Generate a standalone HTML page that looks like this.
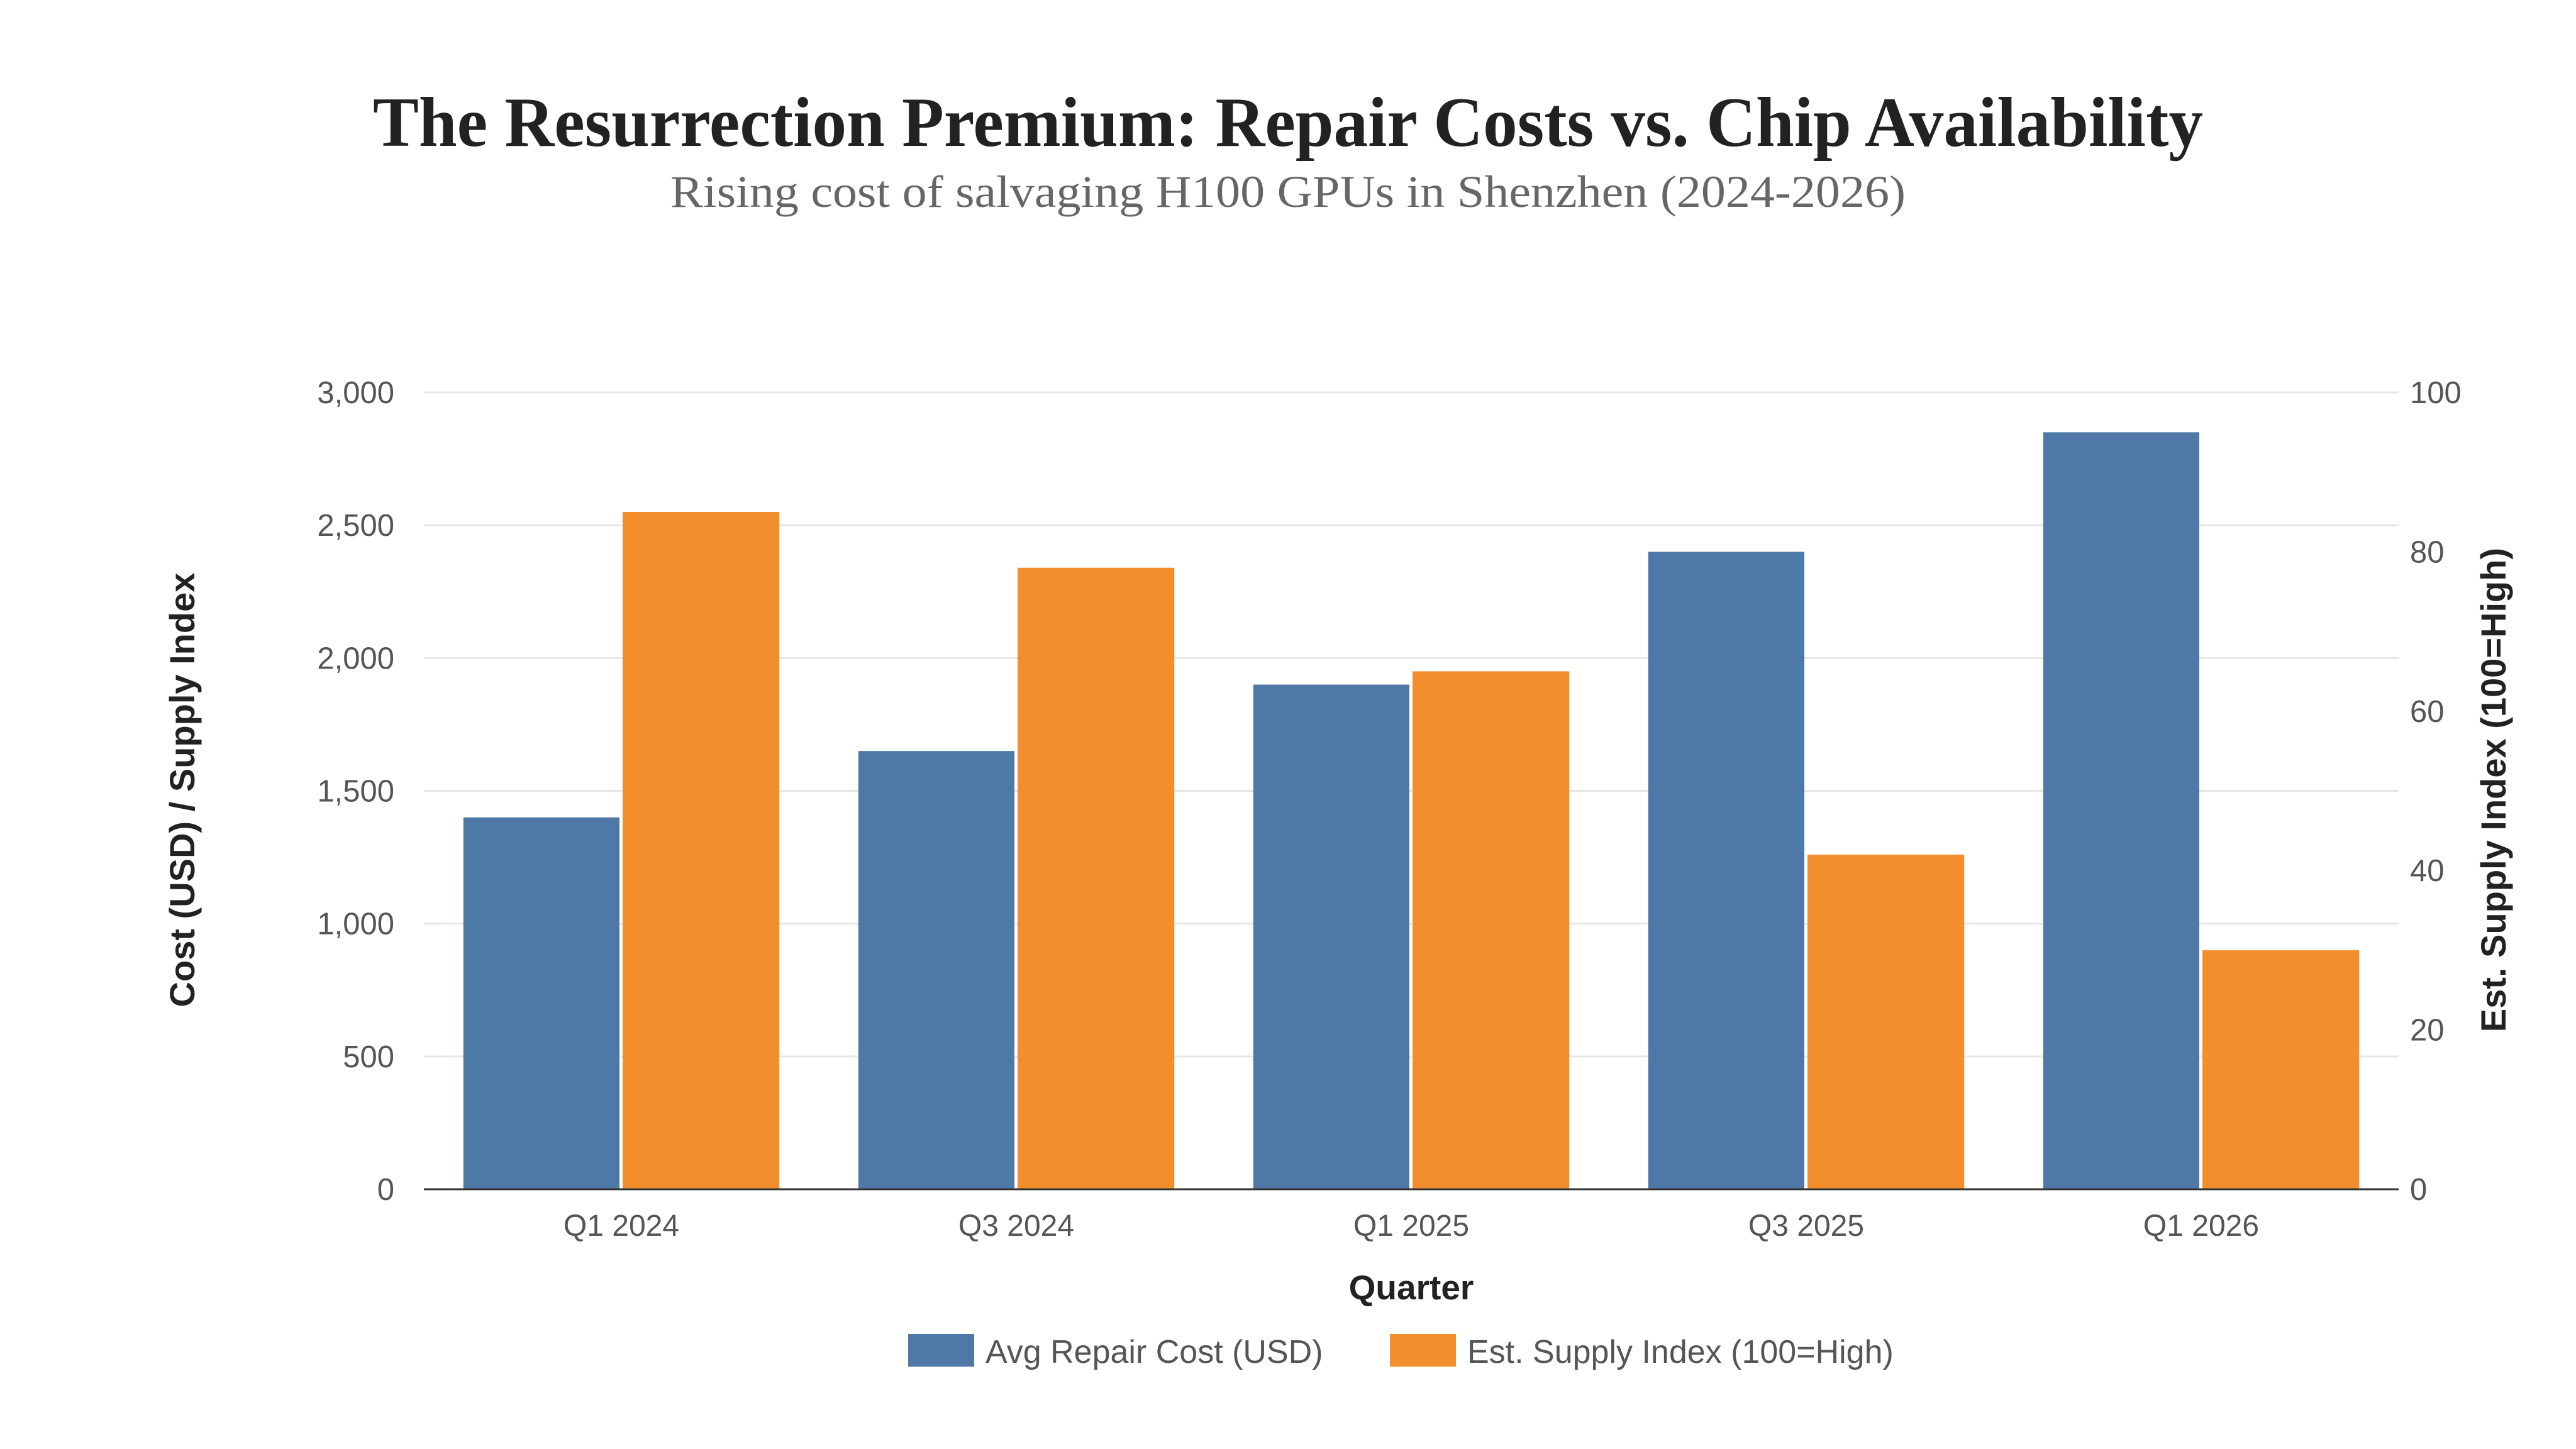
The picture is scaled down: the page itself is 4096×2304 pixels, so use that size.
<!DOCTYPE html>
<html><head><meta charset="utf-8"><style>html,body{margin:0;padding:0;background:#fff}svg{display:block}</style></head>
<body>
<svg id="chart" width="4096" height="2304" viewBox="0 0 4096 2304" xmlns="http://www.w3.org/2000/svg">
<rect width="4096" height="2304" fill="#fff"/>
<text x="2048" y="232" text-anchor="middle" font-family="Liberation Serif, serif" font-weight="bold" font-size="112" fill="#222" textLength="2910" lengthAdjust="spacingAndGlyphs">The Resurrection Premium: Repair Costs vs. Chip Availability</text>
<text x="2048" y="329" text-anchor="middle" font-family="Liberation Serif, serif" font-size="72" fill="#666" textLength="1964" lengthAdjust="spacingAndGlyphs">Rising cost of salvaging H100 GPUs in Shenzhen (2024-2026)</text>
<g id="grid"></g><g id="bars"></g><g id="axes"></g>
<text x="2244" y="2066" text-anchor="middle" font-family="Liberation Sans, sans-serif" font-weight="bold" font-size="55" fill="#222">Quarter</text>
<text transform="translate(309,1256) rotate(-90)" text-anchor="middle" font-family="Liberation Sans, sans-serif" font-weight="bold" font-size="56" fill="#222">Cost (USD) / Supply Index</text>
<text transform="translate(3984,1256) rotate(-90)" text-anchor="middle" font-family="Liberation Sans, sans-serif" font-weight="bold" font-size="56" fill="#222">Est. Supply Index (100=High)</text>
<g>
<rect x="1444" y="2121" width="105" height="52" fill="#4e79a7"/>
<text x="1567" y="2167" font-family="Liberation Sans, sans-serif" font-size="52" fill="#555">Avg Repair Cost (USD)</text>
<rect x="2210" y="2121" width="105" height="52" fill="#f28e2b"/>
<text x="2333" y="2167" font-family="Liberation Sans, sans-serif" font-size="52" fill="#555">Est. Supply Index (100=High)</text>
</g>
</svg>
<script>
const categories = ["Q1 2024","Q3 2024","Q1 2025","Q3 2025","Q1 2026"];
const repairCost = [1400,1650,1900,2400,2850];
const supplyIndex = [85,78,65,42,30];
const leftTicks = [0,500,1000,1500,2000,2500,3000];
const rightTicks = [0,20,40,60,80,100];
const NS="http://www.w3.org/2000/svg";
const L=674,R=3814,T=624,B=1891;
const yL=v=>B-(v/3000)*(B-T);
const yR=v=>B-(v/100)*(B-T);
const bw=(R-L)/categories.length;
function mk(tag,attrs,parent,text){const e=document.createElementNS(NS,tag);for(const k in attrs)e.setAttribute(k,attrs[k]);if(text!==undefined)e.textContent=text;document.getElementById(parent).appendChild(e);return e;}
leftTicks.forEach(t=>{
  const g=mk('line',{x1:L,x2:R,y1:yL(t),y2:yL(t),stroke:'#e6e6e6','stroke-width':3},'grid');
  
  
  const s=mk('text',{x:627,y:yL(t)+17,'text-anchor':'end','font-family':'Liberation Sans, sans-serif','font-size':49,fill:'#555'},'axes',t.toLocaleString('en-US'));
  
  
});
rightTicks.forEach(t=>{
  const s=mk('text',{x:3832,y:yR(t)+17,'font-family':'Liberation Sans, sans-serif','font-size':49,fill:'#555'},'axes',String(t));
  
  
});
categories.forEach((c,i)=>{
  const cx=L+bw*(i+0.5), w=bw*0.4;
  const b1=mk('rect',{x:cx-w,y:yL(repairCost[i]),width:w-3,height:B-yL(repairCost[i]),fill:'#4e79a7'},'bars');
  
  
  const b2=mk('rect',{x:cx+2,y:yR(supplyIndex[i]),width:w-2,height:B-yR(supplyIndex[i]),fill:'#f28e2b'},'bars');
  
  
  const lb=mk('text',{x:cx,y:1965,'text-anchor':'middle','font-family':'Liberation Sans, sans-serif','font-size':48,fill:'#555'},'axes',c);
  
  
});
const ax=mk('line',{x1:L,x2:R,y1:B,y2:B,stroke:'#333','stroke-width':3},'axes');


</script>
</body></html>
